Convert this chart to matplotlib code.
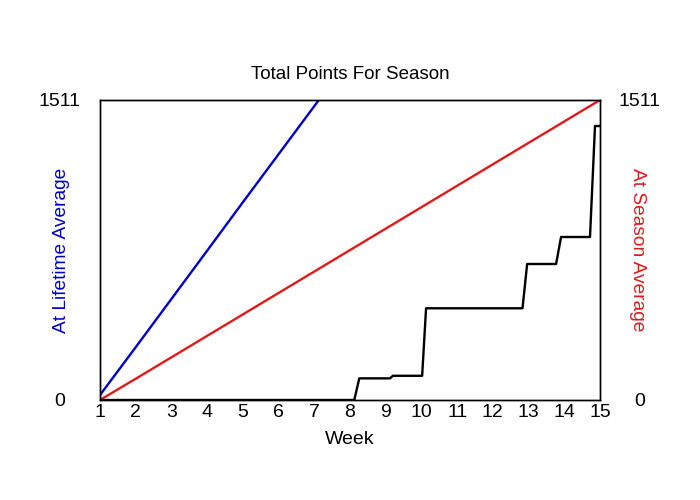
import matplotlib
matplotlib.use("Agg")
import matplotlib.pyplot as plt

plt.rcParams["font.family"] = ["Liberation Sans", "DejaVu Sans"]

# Werte
weeks = list(range(1, 16))
week_labels = [str(w) for w in weeks]
y_max = 1511

# Tempo nach Karriere-Durchschnitt (blau), laeuft ueber den Rand hinaus
lifetime_weeks = [1, 2, 3, 4, 5, 6, 7, 8]
lifetime_points = [25, 266, 509, 752, 996, 1238, 1480, 1724]

# Tempo nach Saison-Durchschnitt (rot)
season_weeks = weeks
season_points = [0, 107, 215, 323, 431, 539, 647, 755, 863, 971, 1079, 1187, 1295, 1403, 1511]

# tatsaechlich erzielte Punkte (schwarz, Stufen)
actual_weeks = [1, 8.12, 8.26, 9.12, 9.2, 10.02, 10.13, 12.83, 12.96, 13.77, 13.91, 14.72, 14.86, 15]
actual_points = [0, 0, 109, 109, 122, 122, 462, 462, 685, 685, 821, 821, 1380, 1380]

fig = plt.figure(figsize=(7, 5), dpi=100)
ax = fig.add_axes([100 / 700, 100 / 500, 500 / 700, 300 / 500])

ax.plot(lifetime_weeks, lifetime_points, color="#0000c8", linewidth=1.7)
ax.plot(season_weeks, season_points, color="#e01a1a", linewidth=1.7)
ax.plot(actual_weeks, actual_points, color="black", linewidth=1.7)

ax.set_xlim(1, 15)
ax.set_ylim(0, y_max)
ax.set_xticks(weeks)
ax.set_xticklabels(week_labels)
ax.set_yticks([0, y_max])
ax.set_yticklabels(["0", str(y_max)])
ax.tick_params(axis="both", length=0, labelsize=14)
ax.tick_params(axis="x", pad=3)
ax.tick_params(axis="y", pad=28.8)
for lbl in ax.get_yticklabels():
    lbl.set_horizontalalignment("center")

ax.set_title("Total Points For Season", fontsize=13.5, pad=15)
ax.set_xlabel("Week", fontsize=14)
ax.xaxis.set_label_coords(0.5, -0.105)
ax.set_ylabel("At Lifetime Average", color="#0000c8", fontsize=13.8)
ax.yaxis.set_label_coords(-0.060, 0.5)

ax2 = ax.twinx()
ax2.set_ylim(0, y_max)
ax2.set_yticks([0, y_max])
ax2.set_yticklabels(["0", str(y_max)])
ax2.tick_params(axis="y", length=0, labelsize=14, pad=28.8)
for lbl in ax2.get_yticklabels():
    lbl.set_horizontalalignment("center")
ax2.set_ylabel("At Season Average", color="#e01a1a", fontsize=13.8, rotation=270)
ax2.yaxis.set_label_coords(1.092, 0.5)

for a in (ax, ax2):
    for s in a.spines.values():
        s.set_linewidth(1.0)
        s.set_color("black")

fig.savefig("out.png", dpi=100)
